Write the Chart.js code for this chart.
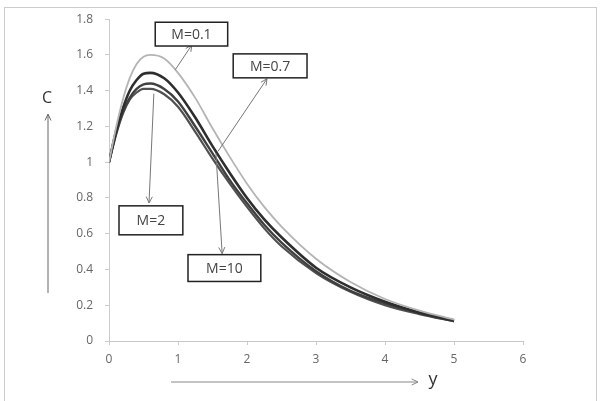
<!DOCTYPE html>
<html>
<head>
<meta charset="utf-8">
<script src="https://cdn.jsdelivr.net/npm/chart.js@4/dist/chart.umd.min.js"></script>
<style>
  html, body { margin: 0; padding: 0; background: #fff; }
  canvas { display: block; }
</style>
</head>
<body>
<canvas id="chart" width="601" height="401"></canvas>
<script>
// y positions along the profile
const yValues = [0, 0.1, 0.2, 0.3, 0.4, 0.5, 0.6, 0.8, 1.0, 1.25, 1.5, 1.75, 2, 2.25, 2.5, 3, 3.5, 4, 4.5, 5];

// C for each M
const cM01 = [1.00, 1.19, 1.35, 1.47, 1.55, 1.59, 1.60, 1.58, 1.50, 1.36, 1.19, 1.03, 0.88, 0.75, 0.64, 0.46, 0.33, 0.235, 0.17, 0.12];
const cM07 = [1.00, 1.17, 1.30, 1.40, 1.46, 1.495, 1.50, 1.47, 1.39, 1.25, 1.09, 0.94, 0.80, 0.68, 0.58, 0.41, 0.30, 0.22, 0.16, 0.115];
const cM2  = [1.00, 1.16, 1.28, 1.36, 1.41, 1.435, 1.44, 1.41, 1.34, 1.20, 1.05, 0.90, 0.77, 0.65, 0.55, 0.39, 0.28, 0.21, 0.155, 0.112];
const cM10 = [1.00, 1.15, 1.27, 1.35, 1.39, 1.41, 1.41, 1.38, 1.31, 1.17, 1.02, 0.88, 0.75, 0.63, 0.53, 0.38, 0.275, 0.20, 0.15, 0.11];

const xTicks = [0, 1, 2, 3, 4, 5, 6];
const yTicks = [0, 0.2, 0.4, 0.6, 0.8, 1, 1.2, 1.4, 1.6, 1.8];

// callout boxes and arrows, in data units
const callouts = [
    { text: "M=0.1", box: [0.67, 1.783, 1.72, 1.65], from: [0.96, 1.517], to: [1.20, 1.656] },
    { text: "M=0.7", box: [1.80, 1.606, 2.87, 1.472], from: [1.58, 1.061], to: [2.29, 1.467] },
    { text: "M=2",   box: [0.145, 0.756, 1.07, 0.594], from: [0.65, 1.383], to: [0.58, 0.772] },
    { text: "M=10",  box: [1.145, 0.483, 2.20, 0.333], from: [1.55, 1.05], to: [1.64, 0.489] }
];

function pairs(vals) {
    return yValues.map((y, i) => ({ x: y, y: vals[i] }));
}

function arrow(ctx, x1, y1, x2, y2, color) {
    const a = Math.atan2(y2 - y1, x2 - x1);
    const h = 7;
    ctx.save();
    ctx.strokeStyle = color;
    ctx.lineWidth = 1;
    ctx.beginPath();
    ctx.moveTo(x1, y1);
    ctx.lineTo(x2, y2);
    ctx.moveTo(x2 - h * Math.cos(a - 0.45), y2 - h * Math.sin(a - 0.45));
    ctx.lineTo(x2, y2);
    ctx.lineTo(x2 - h * Math.cos(a + 0.45), y2 - h * Math.sin(a + 0.45));
    ctx.stroke();
    ctx.restore();
}

const decorations = {
    id: "decorations",
    beforeDraw(chart) {
        const ctx = chart.ctx;
        ctx.save();
        ctx.fillStyle = "#fff";
        ctx.fillRect(0, 0, chart.width, chart.height);
        ctx.strokeStyle = "#999";
        ctx.setLineDash([1, 1]);
        ctx.lineWidth = 1;
        ctx.strokeRect(4.5, 7.5, 592, 400);
        ctx.restore();
    },
    afterDraw(chart) {
        const ctx = chart.ctx;
        const xs = chart.scales.x, ys = chart.scales.y;
        const area = chart.chartArea;

        callouts.forEach(c => {
            arrow(ctx, xs.getPixelForValue(c.from[0]), ys.getPixelForValue(c.from[1]),
                  xs.getPixelForValue(c.to[0]), ys.getPixelForValue(c.to[1]), "#777");
            const x1 = xs.getPixelForValue(c.box[0]), y1 = ys.getPixelForValue(c.box[1]);
            const x2 = xs.getPixelForValue(c.box[2]), y2 = ys.getPixelForValue(c.box[3]);
            ctx.save();
            ctx.fillStyle = "#fff";
            ctx.fillRect(x1, y1, x2 - x1, y2 - y1);
            ctx.strokeStyle = "#222";
            ctx.lineWidth = 1.5;
            ctx.strokeRect(x1, y1, x2 - x1, y2 - y1);
            ctx.fillStyle = "#444";
            ctx.font = "14px 'Open Sans', sans-serif";
            ctx.textAlign = "center";
            ctx.textBaseline = "middle";
            ctx.fillText(c.text, (x1 + x2) / 2, (y1 + y2) / 2 + 1);
            ctx.restore();
        });

        // axis names with their arrows
        ctx.save();
        ctx.fillStyle = "#333";
        ctx.font = "16px 'Open Sans', sans-serif";
        ctx.textAlign = "center";
        ctx.textBaseline = "middle";
        ctx.fillText("C", area.left - 62, area.top + 79);
        ctx.font = "18px 'Open Sans', sans-serif";
        ctx.fillText("y", area.left + 324, area.bottom + 39);
        ctx.restore();
        arrow(ctx, area.left - 61, area.bottom - 48, area.left - 61, area.top + 95, "#666");
        arrow(ctx, area.left + 62, area.bottom + 41, area.left + 309, area.bottom + 41, "#888");
    }
};

const lineBase = { pointRadius: 0, fill: false, cubicInterpolationMode: "monotone" };

new Chart(document.getElementById("chart"), {
    type: "line",
    data: {
        datasets: [
            { ...lineBase, label: "M=0.1", data: pairs(cM01), borderColor: "#b4b4b4", borderWidth: 1.8 },
            { ...lineBase, label: "M=0.7", data: pairs(cM07), borderColor: "#2e2e2e", borderWidth: 2.6 },
            { ...lineBase, label: "M=2", data: pairs(cM2), borderColor: "#404040", borderWidth: 2.4 },
            { ...lineBase, label: "M=10", data: pairs(cM10), borderColor: "#505050", borderWidth: 2.2 }
        ]
    },
    options: {
        responsive: false,
        animation: false,
        layout: { padding: { top: 12, right: 78, bottom: 0, left: 0 } },
        plugins: { legend: { display: false }, tooltip: { enabled: false } },
        scales: {
            x: {
                type: "linear",
                min: 0, max: 6,
                afterBuildTicks: s => { s.ticks = xTicks.map(v => ({ value: v })); },
                afterFit: s => { s.height = 60; },
                grid: { drawOnChartArea: false, tickLength: 4, color: "#ccc" },
                border: { color: "#c8c8c8" },
                ticks: { color: "#666", font: { family: "'Open Sans', sans-serif", size: 12 }, padding: 7 }
            },
            y: {
                min: 0, max: 1.8,
                afterBuildTicks: s => { s.ticks = yTicks.map(v => ({ value: v })); },
                afterFit: s => { s.width = 109; },
                grid: { drawOnChartArea: false, tickLength: 4, color: "#ccc" },
                border: { color: "#ccc", dash: [1, 2] },
                ticks: { color: "#666", font: { family: "'Open Sans', sans-serif", size: 12 }, padding: 12,
                         callback: v => String(Math.round(v * 10) / 10) }
            }
        }
    },
    plugins: [decorations]
});
</script>
</body>
</html>
